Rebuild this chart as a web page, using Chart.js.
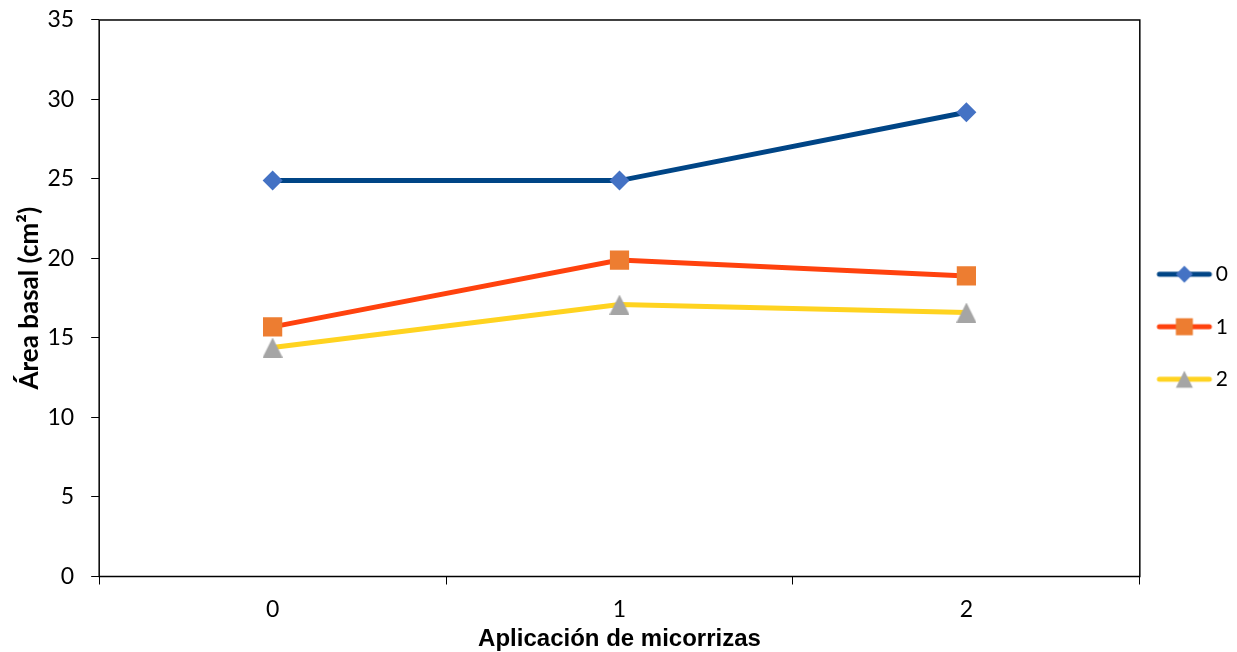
<!DOCTYPE html>
<html>
<head>
<meta charset="utf-8">
<script src="https://cdn.jsdelivr.net/npm/chart.js@4.4.1/dist/chart.umd.min.js"></script>
<style>
  body { margin: 0; background: #fff; }
  #wrap { width: 1237px; height: 652px; }
</style>
</head>
<body>
<div id="wrap"><canvas id="chart"></canvas></div>
<script>
// categories on the x axis
const categories = ['0', '1', '2'];
// series names
const seriesNames = ['0', '1', '2'];
// basal area values per series
const serie0 = [24.9, 24.9, 29.2];
const serie1 = [15.7, 19.9, 18.9];
const serie2 = [14.4, 17.1, 16.6];

const lineColors = ['#004586', '#ff420e', '#ffd320'];
const markerColors = ['#4472c4', '#ed7d31', '#a5a5a5'];

const xTickFont = { family: 'Lato, "Open Sans", sans-serif', size: 23, lineHeight: 1 };
// small line height keeps the top label from pushing the plot down
const yTickFont = { family: 'Lato, "Open Sans", sans-serif', size: 23, lineHeight: 0.26 };
const xTitleFont = { family: '"Liberation Sans", Arial, sans-serif', size: 24, weight: 'bold', lineHeight: 1 };
const yTitleFont = { family: 'Lato, "Open Sans", sans-serif', size: 26, weight: 'bold', lineHeight: 1.1 };

function drawMarker(g, shape, cx, cy, s) {
  g.beginPath();
  if (shape === 'diamond') {
    g.moveTo(cx, cy - s); g.lineTo(cx + s, cy); g.lineTo(cx, cy + s); g.lineTo(cx - s, cy);
  } else if (shape === 'square') {
    g.rect(cx - s, cy - s, 2 * s, 2 * s);
  } else {
    g.moveTo(cx, cy - s); g.lineTo(cx + s, cy + s); g.lineTo(cx - s, cy + s);
  }
  g.closePath();
  g.fill();
}

// centred triangle marker for the data points
function triangleImage(fill, size) {
  const c = document.createElement('canvas');
  c.width = size; c.height = size;
  const g = c.getContext('2d');
  g.fillStyle = fill;
  drawMarker(g, 'triangle', size / 2, size / 2, size / 2);
  return c;
}

// line + marker legend symbol
const legendShapes = ['diamond', 'square', 'triangle'];
function swatch(i) {
  const c = document.createElement('canvas');
  c.width = 70; c.height = 24;
  const g = c.getContext('2d');
  g.strokeStyle = lineColors[i];
  g.lineWidth = 5;
  g.lineCap = 'round';
  g.beginPath(); g.moveTo(6, 12); g.lineTo(56, 12); g.stroke();
  g.fillStyle = markerColors[i];
  drawMarker(g, legendShapes[i], 31, 12, 8.5);
  return c;
}
const swatches = [0, 1, 2].map(swatch);

const pointStyles = ['rectRot', 'rect', triangleImage(markerColors[2], 20)];
const pointRadius = [10, 13.6, 10];

// box around the plot area
const frame = {
  id: 'frame',
  beforeDatasetsDraw(chart) {
    const { ctx, chartArea: a } = chart;
    ctx.save();
    ctx.strokeStyle = '#000';
    ctx.lineWidth = 1.5;
    ctx.strokeRect(a.left, a.top, a.right - a.left, a.bottom - a.top);
    ctx.restore();
  }
};

const datasets = [serie0, serie1, serie2].map((d, i) => ({
  label: seriesNames[i],
  data: d,
  borderColor: lineColors[i],
  borderWidth: 5,
  pointStyle: pointStyles[i],
  pointRadius: pointRadius[i],
  pointHoverRadius: pointRadius[i],
  pointBackgroundColor: markerColors[i],
  pointBorderColor: markerColors[i],
  pointBorderWidth: 0,
  tension: 0,
  fill: false
}));

new Chart(document.getElementById('chart'), {
  type: 'line',
  data: { labels: categories, datasets },
  plugins: [frame],
  options: {
    responsive: true,
    maintainAspectRatio: false,
    animation: false,
    layout: { padding: { top: 1.5, right: -1, left: 0, bottom: 0 } },
    plugins: {
      tooltip: { enabled: false },
      legend: {
        position: 'right',
        labels: {
          usePointStyle: true,
          pointStyleWidth: 34,
          padding: 31.5,
          color: '#000',
          font: { family: 'Lato, "Open Sans", sans-serif', size: 21 },
          generateLabels(chart) {
            return chart.data.datasets.map((ds, i) => ({
              text: ds.label,
              pointStyle: swatches[i],
              fillStyle: markerColors[i],
              strokeStyle: lineColors[i],
              lineWidth: 0,
              hidden: false,
              datasetIndex: i,
              fontColor: '#000'
            }));
          }
        }
      }
    },
    scales: {
      x: {
        offset: true,
        border: { display: false },
        grid: { offset: true, drawOnChartArea: false, drawTicks: true, tickLength: 8, color: '#000', lineWidth: 1 },
        ticks: { color: '#000', font: xTickFont, padding: 14 },
        title: { display: true, text: 'Aplicación de micorrizas', color: '#000', font: xTitleFont, padding: { top: -8.5, bottom: 1 } }
      },
      y: {
        min: 0,
        max: 35,
        border: { display: false },
        grid: { drawOnChartArea: false, drawTicks: true, tickLength: 8, color: '#000', lineWidth: 1 },
        ticks: { stepSize: 5, color: '#000', font: yTickFont, padding: 17 },
        title: { display: true, text: 'Área basal (cm²)', color: '#000', font: yTitleFont, padding: { top: 15, bottom: -13.1 } }
      }
    }
  }
});
</script>
</body>
</html>
